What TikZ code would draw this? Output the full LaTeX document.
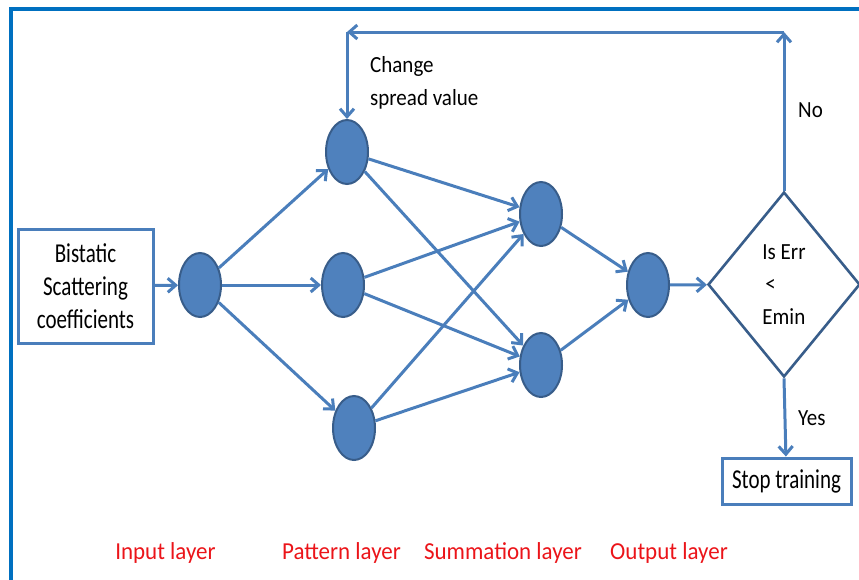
\documentclass[tikz,border=0pt]{standalone}
\usepackage{fontspec}
\setmainfont{Carlito}
\usetikzlibrary{shapes.geometric,arrows.meta}
\definecolor{linec}{RGB}{74,126,187}
\definecolor{fillc}{RGB}{79,129,189}
\definecolor{edgec}{RGB}{56,93,138}
\definecolor{framec}{RGB}{0,112,192}
\definecolor{redc}{RGB}{235,20,25}
\newcommand{\vs}[2]{\scalebox{1}[#1]{#2}}
\begin{document}
\begin{tikzpicture}[x=1pt,y=-1pt,
  neuron/.style={ellipse, draw=edgec, fill=fillc, line width=2pt, minimum width=42pt, minimum height=64pt, inner sep=0pt},
  conn/.style={draw=linec, line width=3pt, -{Straight Barb[length=8pt,width=14pt]}},
  boxnode/.style={draw=linec, line width=3pt, inner sep=0pt, align=center, font=\fontsize{21}{33}\selectfont},
  lbl/.style={inner sep=0pt, font=\fontsize{21}{25}\selectfont, anchor=base west},
  layer/.style={inner sep=0pt, text=redc, font=\fontsize{23}{28}\selectfont, anchor=base},
]
\useasboundingbox (0,0) rectangle (859,579);
\draw[framec, line width=4pt] (10.5,580) -- (10.5,8.5) -- (860,8.5);

\node[boxnode, minimum width=135pt, minimum height=114pt] (inbox) at (85.5,286) {\vs{1.3}{Bistatic}\\\vs{1.3}{Scattering}\\\vs{1.3}{coefficients}};
\node[neuron] (in) at (200,285) {};
\node[neuron] (p1) at (347,152) {};
\node[neuron] (p2) at (343,285) {};
\node[neuron] (p3) at (354,428) {};
\node[neuron] (s1) at (541,214) {};
\node[neuron] (s2) at (541,365) {};
\node[neuron] (out) at (648,285) {};
\node[diamond, draw=edgec, line width=2.6pt, minimum width=152pt, minimum height=185pt, inner sep=0pt, align=left, font=\fontsize{21}{32.5}\selectfont] (dec) at (784,284.5) {\vs{1.1}{Is Err}\\\hspace*{3pt}\vs{1.1}{<}\\\vs{1.1}{Emin}};
\node[boxnode, minimum width=129pt, minimum height=46pt] (stop) at (786.5,481) {\vs{1.3}{Stop training}};

\node[lbl] (chg1) at (370,72) {\vs{1.1}{Change}};
\node[lbl] (chg2) at (370,105) {\vs{1.1}{spread value}};
\node[lbl] (no) at (798,117) {\vs{1.1}{No}};
\node[lbl] (yes) at (798,425) {\vs{1.1}{Yes}};

\node[layer] (l1) at (165.5,559) {\vs{1.06}{Input layer}};
\node[layer] (l2) at (341.5,559) {\vs{1.06}{Pattern layer}};
\node[layer] (l3) at (503,559) {\vs{1.06}{Summation layer}};
\node[layer] (l4) at (669,559) {\vs{1.06}{Output layer}};

\draw[conn] (inbox) -- (in);
\draw[conn] (in) -- (p1);
\draw[conn] (in) -- (p2);
\draw[conn] (in) -- (p3);
\foreach \p in {p1,p2,p3}{
  \foreach \s in {s1,s2}{
    \draw[conn] (\p) -- (\s);
  }
}
\draw[conn] (s1) -- (out);
\draw[conn] (s2) -- (out);
\draw[conn] (out) -- (dec);
\coordinate (c1) at (784,32);
\coordinate (c2) at (347,32);
\draw[conn] (dec.north) -- (c1);
\draw[conn] (c1) -- (c2);
\draw[conn] (c2) -- (p1);
\draw[conn] (dec.south) -- (stop);
\end{tikzpicture}
\end{document}
